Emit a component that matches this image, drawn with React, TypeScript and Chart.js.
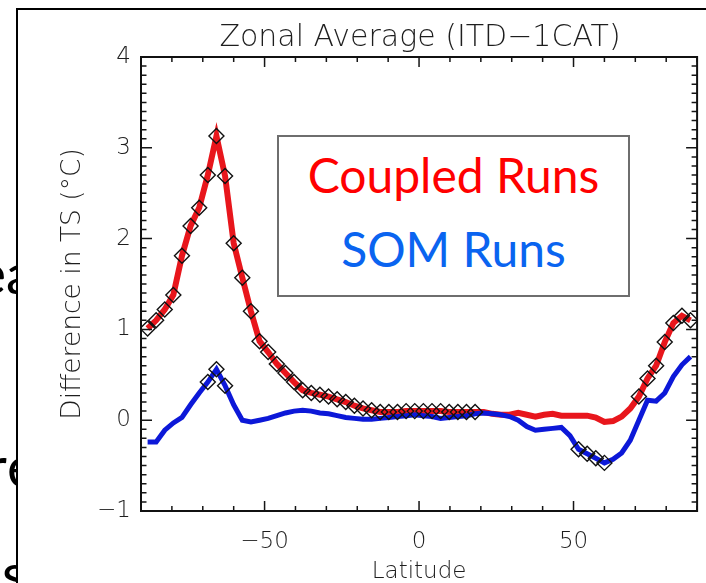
import React, { useEffect, useRef } from "react";
import { Chart, registerables } from "chart.js";

Chart.register(...registerables);

// ---- data ----
const latitude = [
  -87.86, -85.1, -82.31, -79.53, -76.74, -73.95, -71.16, -68.37, -65.58, -62.79,
  -60.0, -57.21, -54.42, -51.63, -48.84, -46.04, -43.25, -40.46, -37.67, -34.88,
  -32.09, -29.3, -26.51, -23.72, -20.93, -18.14, -15.35, -12.56, -9.77, -6.98,
  -4.19, -1.4, 1.4, 4.19, 6.98, 9.77, 12.56, 15.35, 18.14, 20.93,
  23.72, 26.51, 29.3, 32.09, 34.88, 37.67, 40.46, 43.25, 46.04, 48.84,
  51.63, 54.42, 57.21, 60.0, 62.79, 65.58, 68.37, 71.16, 73.95, 76.74,
  79.53, 82.31, 85.1, 87.86,
];

const coupledRuns = [
  1.01, 1.1, 1.22, 1.38, 1.81, 2.14, 2.34, 2.7, 3.13, 2.69,
  1.95, 1.57, 1.2, 0.87, 0.75, 0.62, 0.52, 0.42, 0.33, 0.3,
  0.28, 0.26, 0.23, 0.2, 0.16, 0.13, 0.11, 0.09, 0.09, 0.09,
  0.1, 0.1, 0.1, 0.1, 0.1, 0.09, 0.09, 0.09, 0.09, 0.09,
  0.07, 0.06, 0.06, 0.08, 0.06, 0.04, 0.06, 0.07, 0.05, 0.05,
  0.05, 0.05, 0.03, -0.02, -0.01, 0.04, 0.13, 0.26, 0.46, 0.6,
  0.86, 1.07, 1.15, 1.1,
];

const somRuns = [
  -0.24, -0.24, -0.11, -0.03, 0.03, 0.17, 0.3, 0.42, 0.56, 0.38,
  0.17, 0.0, -0.02, 0.0, 0.02, 0.05, 0.08, 0.1, 0.11, 0.1,
  0.08, 0.07, 0.05, 0.03, 0.02, 0.01, 0.01, 0.02, 0.03, 0.04,
  0.05, 0.06, 0.05, 0.04, 0.02, 0.03, 0.04, 0.05, 0.07, 0.08,
  0.07, 0.06, 0.04, 0.0, -0.07, -0.11, -0.1, -0.09, -0.08, -0.17,
  -0.32, -0.37, -0.42, -0.47, -0.43, -0.36, -0.22, 0.0, 0.22, 0.21,
  0.3, 0.48, 0.61, 0.7,
];

// 1 = latitude marked with a diamond
const coupledMarked = [
  1, 1, 1, 1, 1, 1, 1, 1, 1, 1,
  1, 1, 1, 1, 1, 1, 1, 1, 1, 1,
  1, 1, 1, 1, 1, 1, 1, 1, 1, 1,
  1, 1, 1, 1, 1, 1, 1, 1, 1, 0,
  0, 0, 0, 0, 0, 0, 0, 0, 0, 0,
  0, 0, 0, 0, 0, 0, 0, 1, 1, 1,
  1, 1, 1, 1,
];

const somMarked = [
  0, 0, 0, 0, 0, 0, 0, 1, 1, 1,
  0, 0, 0, 0, 0, 0, 0, 0, 0, 0,
  0, 0, 0, 0, 0, 0, 0, 0, 0, 0,
  0, 0, 0, 0, 0, 0, 0, 0, 0, 0,
  0, 0, 0, 0, 0, 0, 0, 0, 0, 0,
  1, 1, 1, 1, 0, 0, 0, 0, 0, 0,
  0, 0, 0, 0,
];

const xTickValues = [-50, 0, 50];
const yTickValues = [-1, 0, 1, 2, 3, 4];
const chartTitle = "Zonal Average (ITD\u22121CAT)";
const xTitle = "Latitude";
const yTitle = "Difference in TS (\u00B0C)";
const legendLabels = ["Coupled Runs", "SOM Runs"];

const AXIS_FONT = '"DejaVu Sans", sans-serif';
const TEXT_COLOR = "#1e1e1e";

const fmt = (v: number) => (v < 0 ? "\u2212" + Math.abs(v) : String(v));

const toPoints = (vals: number[]) => latitude.map((x, i) => ({ x, y: vals[i] }));
const toMarked = (vals: number[], flags: number[]) =>
  latitude
    .map((x, i) => ({ x, y: vals[i], f: flags[i] }))
    .filter((p) => p.f === 1)
    .map((p) => ({ x: p.x, y: p.y }));

const idlFrame = {
  id: "idlFrame",
  afterDraw(chart: any) {
    const { ctx, chartArea: a, scales } = chart;
    const xs = scales.x;
    const ys = scales.y;
    ctx.save();
    ctx.strokeStyle = "#151515";
    ctx.lineWidth = 1.5;
    ctx.beginPath();
    for (let i = 0; i <= 18; i++) {
      const v = xs.min + i * 10;
      const px = xs.getPixelForValue(v);
      const len = Math.abs(v % 50) < 1e-6 ? 10 : 5;
      ctx.moveTo(px, a.bottom);
      ctx.lineTo(px, a.bottom - len);
      ctx.moveTo(px, a.top);
      ctx.lineTo(px, a.top + len);
    }
    for (let i = 0; i <= 50; i++) {
      const v = ys.min + i * 0.1;
      const py = ys.getPixelForValue(v);
      const len = i % 10 === 0 ? 11 : 5.5;
      ctx.moveTo(a.left, py);
      ctx.lineTo(a.left + len, py);
      ctx.moveTo(a.right, py);
      ctx.lineTo(a.right - len, py);
    }
    ctx.stroke();
    ctx.lineWidth = 2;
    ctx.strokeStyle = "#111";
    ctx.strokeRect(a.left, a.top, a.right - a.left, a.bottom - a.top);
    ctx.restore();
  },
};

export default function App() {
  const canvasRef = useRef<HTMLCanvasElement | null>(null);

  useEffect(() => {
    if (!canvasRef.current) return;
    const tickFont = { family: AXIS_FONT, size: 23, weight: "200" as any };
    const marker = {
      showLine: false,
      pointStyle: "rectRot",
      pointRadius: 7.5,
      pointBorderWidth: 1.4,
      pointBorderColor: "#111",
      pointBackgroundColor: "rgba(0,0,0,0)",
      order: 0,
    };
    const chart = new Chart(canvasRef.current, {
      type: "line",
      data: {
        datasets: [
          { label: "Coupled markers", data: toMarked(coupledRuns, coupledMarked), ...marker } as any,
          { label: "SOM markers", data: toMarked(somRuns, somMarked), ...marker } as any,
          {
            label: legendLabels[1],
            data: toPoints(somRuns),
            borderColor: "#0c18d8",
            borderWidth: 5,
            pointRadius: 0,
            tension: 0,
            order: 1,
          },
          {
            label: legendLabels[0],
            data: toPoints(coupledRuns),
            borderColor: "#e8161c",
            borderWidth: 6,
            pointRadius: 0,
            tension: 0,
            order: 2,
          },
        ],
      },
      options: {
        animation: false,
        responsive: false,
        maintainAspectRatio: false,
        layout: { padding: { left: 0, right: 2, top: 57, bottom: 0 } },
        plugins: {
          legend: { display: false },
          tooltip: { enabled: false },
          title: { display: false },
        },
        scales: {
          x: {
            type: "linear",
            min: -90,
            max: 90,
            grid: { display: false, drawTicks: false },
            border: { display: false },
            afterBuildTicks: (s: any) => {
              s.ticks = xTickValues.map((value) => ({ value }));
            },
            afterFit: (s: any) => {
              s.height = 72;
            },
            ticks: {
              callback: (v: any) => fmt(Number(v)),
              font: tickFont,
              color: TEXT_COLOR,
              padding: 17,
              maxRotation: 0,
              autoSkip: false,
            },
            title: {
              display: true,
              text: xTitle,
              font: tickFont,
              color: TEXT_COLOR,
              padding: { top: 0, bottom: -3 },
            },
          },
          y: {
            type: "linear",
            min: -1,
            max: 4,
            grid: { display: false, drawTicks: false },
            border: { display: false },
            afterBuildTicks: (s: any) => {
              s.ticks = yTickValues.map((value) => ({ value }));
            },
            afterFit: (s: any) => {
              s.width = 141;
            },
            ticks: {
              callback: (v: any) => fmt(Number(v)),
              font: tickFont,
              color: TEXT_COLOR,
              padding: 10,
              autoSkip: false,
            },
            title: {
              display: true,
              text: yTitle,
              font: { family: AXIS_FONT, size: 26.5, weight: "200" as any },
              color: TEXT_COLOR,
              padding: { top: 57, bottom: 0 },
            },
          },
        },
      },
      plugins: [idlFrame],
    });
    return () => chart.destroy();
  }, []);

  const fragFont: React.CSSProperties = {
    position: "absolute",
    fontFamily: "Lato, sans-serif",
    fontSize: 56,
    lineHeight: "56px",
    color: "#000",
    whiteSpace: "nowrap",
    zIndex: 0,
  };

  return (
    <div
      style={{
        position: "fixed",
        left: 0,
        top: 0,
        width: 706,
        height: 583,
        overflow: "hidden",
        background: "#fff",
      }}
    >
      {/* slide text behind the picture */}
      <div style={{ ...fragFont, right: 700, top: 245, textAlign: "right" }}>Se</div>
      <div style={{ ...fragFont, left: 6, top: 245 }}>a</div>
      <div style={{ ...fragFont, right: 699, top: 438, textAlign: "right" }}>r</div>
      <div style={{ ...fragFont, left: 7, top: 438 }}>e</div>
      <div style={{ ...fragFont, left: 2, top: 545 }}>s</div>

      {/* picture panel */}
      <div
        style={{
          position: "absolute",
          left: 16,
          top: 8,
          right: 0,
          bottom: 0,
          background: "#fff",
          borderLeft: "2px solid #000",
          borderTop: "2px solid #000",
          boxSizing: "border-box",
          zIndex: 1,
        }}
      />
      <canvas
        ref={canvasRef}
        width={706}
        height={583}
        style={{ position: "absolute", left: 0, top: 0, width: 706, height: 583, display: "block", zIndex: 2 }}
      />
      <div
        style={{
          position: "absolute",
          left: 120,
          width: 600,
          top: 21,
          textAlign: "center",
          fontFamily: AXIS_FONT,
          fontWeight: 200,
          fontSize: 30,
          lineHeight: "30px",
          color: TEXT_COLOR,
          whiteSpace: "nowrap",
          zIndex: 3,
        }}
      >
        {chartTitle}
      </div>
      <div
        style={{
          position: "absolute",
          left: 277,
          top: 135,
          width: 353,
          height: 162,
          border: "2px solid #6e6e6e",
          boxSizing: "border-box",
          background: "#fff",
          zIndex: 3,
        }}
      />
      <div
        style={{
          position: "absolute",
          left: 277,
          width: 353,
          top: 151,
          textAlign: "center",
          fontFamily: "Lato, sans-serif",
          fontSize: 48,
          lineHeight: "48px",
          color: "#ff0000",
          whiteSpace: "nowrap",
          zIndex: 4,
        }}
      >
        {legendLabels[0]}
      </div>
      <div
        style={{
          position: "absolute",
          left: 277,
          width: 353,
          top: 225,
          textAlign: "center",
          fontFamily: "Lato, sans-serif",
          fontSize: 48,
          lineHeight: "48px",
          color: "#0a64f0",
          whiteSpace: "nowrap",
          zIndex: 4,
        }}
      >
        {legendLabels[1]}
      </div>
    </div>
  );
}
